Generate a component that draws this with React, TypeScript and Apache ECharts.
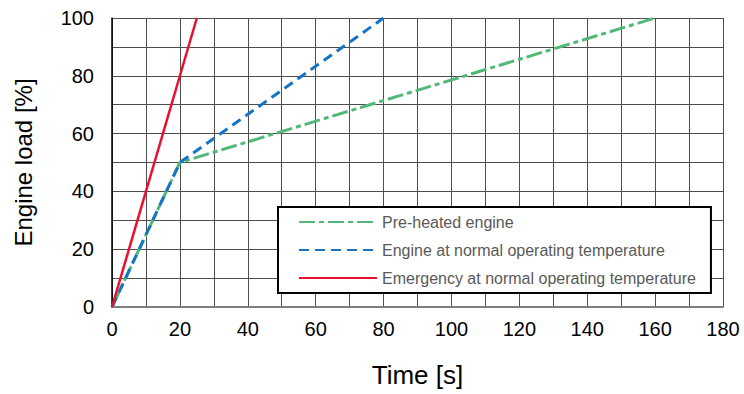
import React, { useEffect, useRef } from "react";
import * as echarts from "echarts";

const seriesNames = [
  "Pre-heated engine",
  "Engine at normal operating temperature",
  "Emergency at normal operating temperature",
];
const preHeated: [number, number][] = [
  [0, 0],
  [20, 50],
  [160, 100],
];
const normalTemp: [number, number][] = [
  [0, 0],
  [20, 50],
  [80, 100],
];
const emergency: [number, number][] = [
  [0, 0],
  [25, 100],
];

export default function App() {
  const ref = useRef<HTMLDivElement>(null);
  useEffect(() => {
    if (!ref.current) return;
    const chart = echarts.init(ref.current, undefined, { renderer: "svg" });
    const font = "Arial, 'Liberation Sans', Helvetica, sans-serif";
    const gridLine = { show: true, lineStyle: { color: "#4d4d4d", width: 1 } };
    chart.setOption({
      animation: false,
      textStyle: { fontFamily: font },
      grid: { left: 112, right: 21, top: 18, bottom: 87 },
      xAxis: {
        type: "value",
        min: 0,
        max: 180,
        interval: 20,
        name: "Time [s]",
        nameLocation: "middle",
        nameGap: 55,
        nameTextStyle: { fontSize: 26, color: "#000", fontFamily: font },
        axisLine: { show: true, lineStyle: { color: "#7f7f7f", width: 2 } },
        axisTick: { show: false },
        axisLabel: { fontSize: 20, color: "#000", margin: 12, fontFamily: font },
        splitLine: gridLine,
        minorTick: { show: false, splitNumber: 2 },
        minorSplitLine: gridLine,
      },
      yAxis: {
        type: "value",
        min: 0,
        max: 100,
        interval: 20,
        name: "Engine load [%]",
        nameLocation: "middle",
        nameGap: 77,
        nameTextStyle: { fontSize: 24, color: "#000", fontFamily: font },
        axisLine: { show: true, lineStyle: { color: "#000", width: 1.5 } },
        axisTick: { show: false },
        axisLabel: { fontSize: 20, color: "#000", margin: 18, fontFamily: font },
        splitLine: gridLine,
        minorTick: { show: false, splitNumber: 2 },
        minorSplitLine: gridLine,
      },
      legend: {
        orient: "vertical",
        left: 278,
        top: 207,
        backgroundColor: "#fff",
        borderColor: "#000",
        borderWidth: 2,
        padding: [7, 15, 7, 20],
        itemWidth: 78,
        itemHeight: 14,
        itemGap: 12,
        itemStyle: { opacity: 0 },
        textStyle: { fontSize: 16, color: "#595959", fontFamily: font },
        data: seriesNames,
      },
      series: [
        {
          name: seriesNames[0],
          type: "line",
          data: preHeated,
          symbol: "none",
          lineStyle: { color: "#52b878", width: 3, type: [16, 4, 5, 4] },
          itemStyle: { color: "#52b878" },
          z: 3,
        },
        {
          name: seriesNames[1],
          type: "line",
          data: normalTemp,
          symbol: "none",
          lineStyle: { color: "#1874c4", width: 3, type: [10, 6] },
          itemStyle: { color: "#1874c4" },
          z: 4,
        },
        {
          name: seriesNames[2],
          type: "line",
          data: emergency,
          symbol: "none",
          lineStyle: { color: "#e8112d", width: 2.5, type: "solid" },
          itemStyle: { color: "#e8112d" },
          z: 5,
        },
      ],
    });
    return () => chart.dispose();
  }, []);
  return <div ref={ref} style={{ width: 744, height: 394, position: "absolute", left: 0, top: 0 }} />;
}
